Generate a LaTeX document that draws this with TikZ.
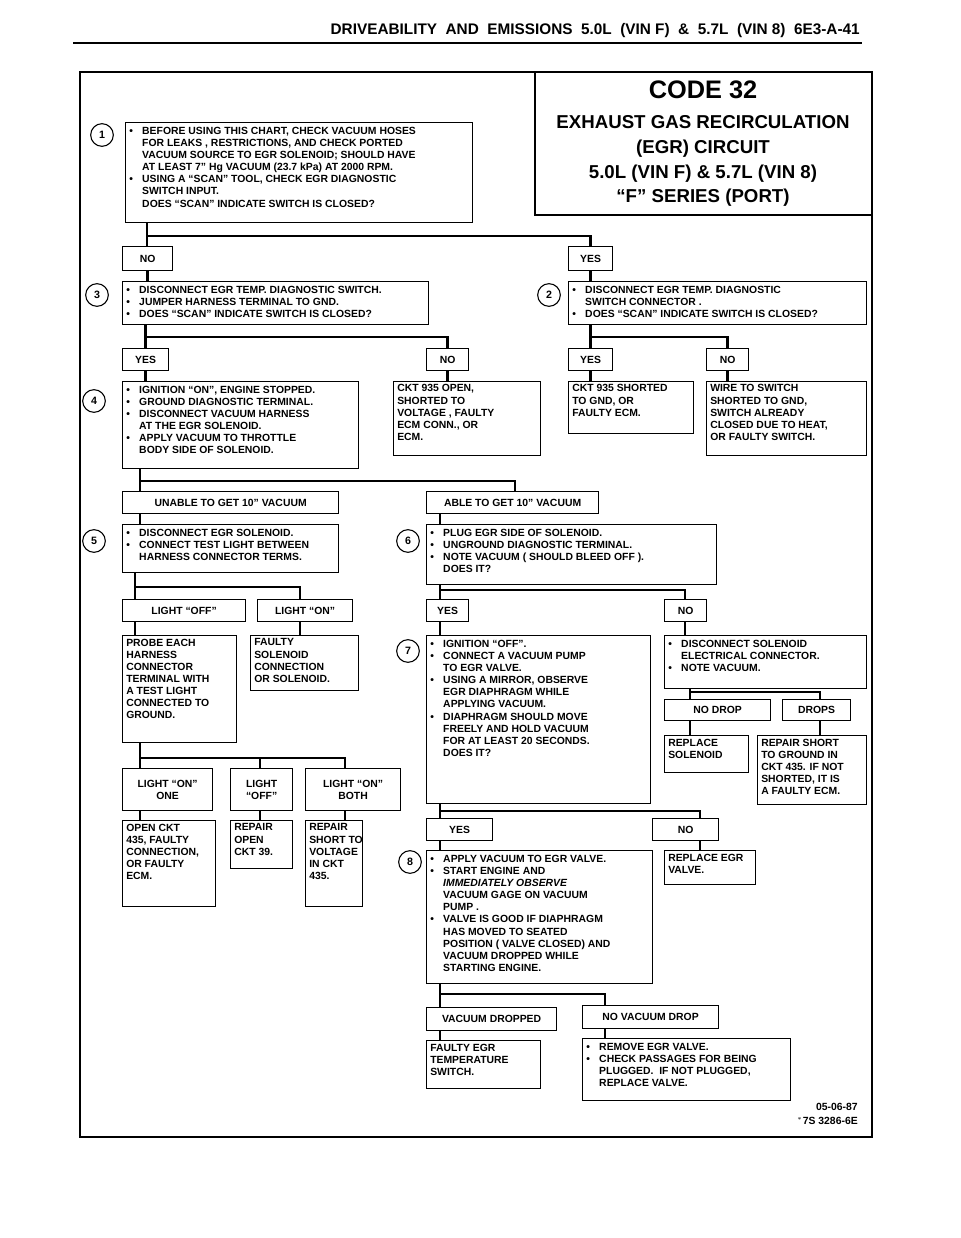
\documentclass[tikz,border=0pt]{standalone}
\usepackage{fontspec}
\setmainfont{Liberation Sans}
\usetikzlibrary{calc}
\newcommand\B{\textbullet}
\tikzset{
  box/.style={draw,line width=0.9pt,inner sep=0pt},
  txt/.style={inner sep=0pt,align=left,font=\fontsize{7.8}{9.1}\selectfont\bfseries},
  lbl/.style={inner sep=0pt,font=\fontsize{7.8}{9.1}\selectfont\bfseries,align=center},
  bus/.style={line width=2.2pt},
  num/.style={draw,circle,line width=0.8pt,minimum size=17pt,inner sep=0pt,font=\fontsize{8}{9}\selectfont\bfseries}
}
\newcommand\bx[6]{\node[box,anchor=north west,minimum width={(#4-#2)*0.75pt},minimum height={(#5-#3)*0.75pt}] (#1) at (#2,#3) {};
  \node[txt,anchor=north west] (#1t) at ([xshift=3pt,yshift=-2.6pt]#1.north west) {#6};}
\newcommand\lb[6]{\node[box,anchor=north west,minimum width={(#4-#2)*0.75pt},minimum height={(#5-#3)*0.75pt}] (#1) at (#2,#3) {};
  \node[lbl] (#1t) at (#1.center) {#6};}
\begin{document}
\begin{tikzpicture}[x=0.75pt,y=-0.75pt]
\useasboundingbox (0,0) rectangle (960,1238);
\node[anchor=south east,inner sep=0pt,font=\fontsize{11.5}{12}\selectfont\bfseries] (hdr) at (860,38) {DRIVEABILITY\ \ AND\ \ EMISSIONS\ \ 5.0L\ \ (VIN F)\ \ \&\ \ 5.7L\ \ (VIN 8)\ \ 6E3-A-41};
\draw[line width=1.3pt] (73,43) -- (862,43);
\draw[line width=1.4pt] (80,72) rectangle (872,1137);
\draw[line width=0.9pt] (535,72) -- (535,215) -- (872,215);
\node[align=center,inner sep=0pt,font=\bfseries\fontsize{14}{18.5}\selectfont] (title) at (703,144) {%
  {\fontsize{19}{22}\selectfont CODE 32}\\[4pt]
  EXHAUST GAS RECIRCULATION\\
  (EGR) CIRCUIT\\
  5.0L (VIN F) \& 5.7L (VIN 8)\\
  ``F'' SERIES (PORT)};
\bx{b1}{125}{122}{472}{222}{\begin{tabular}{@{}l@{\hspace{7pt}}l@{}}\B & BEFORE USING THIS CHART, CHECK VACUUM HOSES\\ & FOR LEAKS , RESTRICTIONS, AND CHECK PORTED\\ & VACUUM SOURCE TO EGR SOLENOID; SHOULD HAVE\\ & AT LEAST 7'' Hg VACUUM (23.7 kPa) AT 2000 RPM.\\ \B & USING A ``SCAN'' TOOL, CHECK EGR DIAGNOSTIC\\ & SWITCH INPUT.\\ & DOES ``SCAN'' INDICATE SWITCH IS CLOSED?\end{tabular}}
\node[num] (n1) at (102,135) {1};
\lb{no1}{122}{246}{172}{270}{NO}
\lb{yes1}{568}{246}{612}{270}{YES}
\bx{b3}{122}{281}{428}{324}{\begin{tabular}{@{}l@{\hspace{7pt}}l@{}}\B & DISCONNECT EGR TEMP. DIAGNOSTIC SWITCH.\\ \B & JUMPER HARNESS TERMINAL TO GND.\\ \B & DOES ``SCAN'' INDICATE SWITCH IS CLOSED?\end{tabular}}
\node[num] (n3) at (97,295) {3};
\bx{b2}{568}{281}{866}{324}{\begin{tabular}{@{}l@{\hspace{7pt}}l@{}}\B & DISCONNECT EGR TEMP. DIAGNOSTIC\\ & SWITCH CONNECTOR .\\ \B & DOES ``SCAN'' INDICATE SWITCH IS CLOSED?\end{tabular}}
\node[num] (n2) at (549,295) {2};
\lb{yes3}{122}{348}{168}{370}{YES}
\lb{no3}{426}{348}{468}{370}{NO}
\lb{yes2}{568}{348}{612}{370}{YES}
\lb{no2}{706}{348}{748}{370}{NO}
\bx{b4}{122}{381}{358}{468}{\begin{tabular}{@{}l@{\hspace{7pt}}l@{}}\B & IGNITION ``ON'', ENGINE STOPPED.\\ \B & GROUND DIAGNOSTIC TERMINAL.\\ \B & DISCONNECT VACUUM HARNESS\\ & AT THE EGR SOLENOID.\\ \B & APPLY VACUUM TO THROTTLE\\ & BODY SIDE OF SOLENOID.\end{tabular}}
\node[num] (n4) at (94,401) {4};
\bx{c935o}{393}{381}{540}{455}{CKT 935 OPEN,\\SHORTED TO\\VOLTAGE , FAULTY\\ECM CONN., OR\\ECM.}
\bx{c935s}{568}{381}{693}{433}{CKT 935 SHORTED\\TO GND, OR\\FAULTY ECM.}
\bx{wire}{706}{381}{866}{455}{WIRE TO SWITCH\\SHORTED TO GND,\\SWITCH ALREADY\\CLOSED DUE TO HEAT,\\OR FAULTY SWITCH.}
\lb{unable}{122}{491}{338}{513}{UNABLE TO GET 10'' VACUUM}
\lb{able}{426}{491}{598}{513}{ABLE TO GET 10'' VACUUM}
\bx{b5}{122}{524}{338}{572}{\begin{tabular}{@{}l@{\hspace{7pt}}l@{}}\B & DISCONNECT EGR SOLENOID.\\ \B & CONNECT TEST LIGHT BETWEEN\\ & HARNESS CONNECTOR TERMS.\end{tabular}}
\node[num] (n5) at (94,541) {5};
\bx{b6}{426}{524}{716}{584}{\begin{tabular}{@{}l@{\hspace{7pt}}l@{}}\B & PLUG EGR SIDE OF SOLENOID.\\ \B & UNGROUND DIAGNOSTIC TERMINAL.\\ \B & NOTE VACUUM ( SHOULD BLEED OFF ).\\ & DOES IT?\end{tabular}}
\node[num] (n6) at (408,541) {6};
\lb{loff}{122}{599}{245}{621}{LIGHT ``OFF''}
\lb{lon}{257}{599}{352}{621}{LIGHT ``ON''}
\lb{yes6}{426}{599}{468}{621}{YES}
\lb{no6}{664}{599}{706}{621}{NO}
\bx{probe}{122}{635}{236}{742}{PROBE EACH\\HARNESS\\CONNECTOR\\TERMINAL WITH\\A TEST LIGHT\\CONNECTED TO\\GROUND.}
\bx{fsol}{250}{635}{358}{690}{FAULTY\\SOLENOID\\CONNECTION\\OR SOLENOID.}
\bx{b7}{426}{635}{650}{803}{\begin{tabular}{@{}l@{\hspace{7pt}}l@{}}\B & IGNITION ``OFF''.\\ \B & CONNECT A VACUUM PUMP\\ & TO EGR VALVE.\\ \B & USING A MIRROR, OBSERVE\\ & EGR DIAPHRAGM WHILE\\ & APPLYING VACUUM.\\ \B & DIAPHRAGM SHOULD MOVE\\ & FREELY AND HOLD VACUUM\\ & FOR AT LEAST 20 SECONDS.\\ & DOES IT?\end{tabular}}
\node[num] (n7) at (408,651) {7};
\bx{disc}{664}{635}{866}{688}{\begin{tabular}{@{}l@{\hspace{7pt}}l@{}}\B & DISCONNECT SOLENOID\\ & ELECTRICAL CONNECTOR.\\ \B & NOTE VACUUM.\end{tabular}}
\lb{nodrop}{664}{699}{770}{720}{NO DROP}
\lb{drops}{782}{699}{850}{720}{DROPS}
\bx{rsol}{664}{735}{748}{772}{REPLACE\\SOLENOID}
\bx{rshort}{757}{735}{866}{804}{REPAIR SHORT\\TO GROUND IN\\CKT 435. IF NOT\\SHORTED, IT IS\\A FAULTY ECM.}
\lb{l1}{122}{768}{212}{810}{LIGHT ``ON''\\ONE}
\lb{l2}{230}{768}{292}{810}{LIGHT\\``OFF''}
\lb{l3}{305}{768}{400}{810}{LIGHT ``ON''\\BOTH}
\bx{openckt}{122}{820}{215}{906}{OPEN CKT\\435, FAULTY\\CONNECTION,\\OR FAULTY\\ECM.}
\bx{ropen}{230}{820}{292}{868}{REPAIR\\OPEN\\CKT 39.}
\bx{rs435}{305}{820}{362}{906}{REPAIR\\SHORT TO\\VOLTAGE\\IN CKT\\435.}
\lb{yes7}{426}{818}{492}{840}{YES}
\lb{no7}{652}{818}{718}{840}{NO}
\bx{b8}{426}{850}{652}{983}{\begin{tabular}{@{}l@{\hspace{7pt}}l@{}}\B & APPLY VACUUM TO EGR VALVE.\\ \B & START ENGINE AND\\ & \itshape IMMEDIATELY OBSERVE\\ & VACUUM GAGE ON VACUUM\\ & PUMP .\\ \B & VALVE IS GOOD IF DIAPHRAGM\\ & HAS MOVED TO SEATED\\ & POSITION ( VALVE CLOSED) AND\\ & VACUUM DROPPED WHILE\\ & STARTING ENGINE.\end{tabular}}
\node[num] (n8) at (410,862) {8};
\bx{regr}{664}{850}{755}{884}{REPLACE EGR\\VALVE.}
\lb{vd}{426}{1007}{556}{1030}{VACUUM DROPPED}
\lb{nvd}{582}{1005}{718}{1028}{NO VACUUM DROP}
\bx{fegr}{426}{1040}{540}{1088}{FAULTY EGR\\TEMPERATURE\\SWITCH.}
\bx{remove}{582}{1038}{790}{1100}{\begin{tabular}{@{}l@{\hspace{7pt}}l@{}}\B & REMOVE EGR VALVE.\\ \B & CHECK PASSAGES FOR BEING\\ & PLUGGED.\ \ IF NOT PLUGGED,\\ & REPLACE VALVE.\end{tabular}}
\node[anchor=east,inner sep=0pt,font=\fontsize{7.8}{9}\selectfont\bfseries] (d1) at (858,1107) {05-06-87};
\node[anchor=east,inner sep=0pt,font=\fontsize{7.8}{9}\selectfont\bfseries] (d2) at (858,1121) {$^*$7S 3286-6E};
\coordinate (x140) at (140,0); \coordinate (x135) at (135,0);
\coordinate (x147) at (147,0);
\coordinate (x515) at (515,0); \coordinate (x440) at (440,0);
\coordinate (x300) at (300,0); \coordinate (x685) at (685,0);
\coordinate (x690) at (690,0); \coordinate (x820) at (820,0);
\coordinate (x260) at (260,0); \coordinate (x345) at (345,0);
\coordinate (x700) at (700,0); \coordinate (x605) at (605,0);
\coordinate (y1) at (0,236); \coordinate (y3) at (0,337);
\coordinate (y4) at (0,481); \coordinate (y5) at (0,587);
\coordinate (y6) at (0,590); \coordinate (yd) at (0,692);
\coordinate (yp) at (0,758); \coordinate (y7) at (0,811);
\coordinate (y8) at (0,994);
\draw[bus] (b1.south -| x147) -- (x147 |- y1) -| (yes1.north);
\draw[bus] (x147 |- y1) -- (x147 |- no1.north);
\draw[bus] (no1.south) -- (b3.north -| no1.south);
\draw[bus] (yes1.south) -- (b2.north -| yes1.south);
\draw[bus] (b3.south -| yes3.north) -- (yes3.north |- y3) -| (no3.north);
\draw[bus] (yes3.north |- y3) -- (yes3.north);
\draw[bus] (yes3.south) -- (b4.north -| yes3.south);
\draw[bus] (no3.south) -- (c935o.north -| no3.south);
\draw[bus] (b2.south -| yes2.north) -- (yes2.north |- y3) -| (no2.north);
\draw[bus] (yes2.north |- y3) -- (yes2.north);
\draw[bus] (yes2.south) -- (c935s.north -| yes2.south);
\draw[bus] (no2.south) -- (wire.north -| no2.south);
\draw[bus] (b4.south -| x140) -- (x140 |- y4) -- (x515 |- y4) -- (x515 |- able.north);
\draw[bus] (x140 |- y4) -- (x140 |- unable.north);
\draw[bus] (unable.south -| x140) -- (b5.north -| x140);
\draw[bus] (able.south -| x440) -- (b6.north -| x440);
\draw[bus] (b5.south -| x135) -- (x135 |- y5) -- (x300 |- y5) -- (x300 |- lon.north);
\draw[bus] (x135 |- y5) -- (x135 |- loff.north);
\draw[bus] (loff.south -| x135) -- (probe.north -| x135);
\draw[bus] (lon.south -| x300) -- (fsol.north -| x300);
\draw[bus] (b6.south -| x440) -- (x440 |- y6) -- (x685 |- y6) -- (x685 |- no6.north);
\draw[bus] (x440 |- y6) -- (x440 |- yes6.north);
\draw[bus] (yes6.south -| x440) -- (b7.north -| x440);
\draw[bus] (no6.south -| x685) -- (disc.north -| x685);
\draw[bus] (disc.south -| x690) -- (x690 |- yd) -- (x820 |- yd) -- (x820 |- drops.north);
\draw[bus] (x690 |- yd) -- (x690 |- nodrop.north);
\draw[bus] (nodrop.south -| x690) -- (rsol.north -| x690);
\draw[bus] (drops.south -| x820) -- (rshort.north -| x820);
\draw[bus] (probe.south -| x140) -- (x140 |- yp) -- (x345 |- yp) -- (x345 |- l3.north);
\draw[bus] (x140 |- yp) -- (x140 |- l1.north);
\draw[bus] (x260 |- yp) -- (x260 |- l2.north);
\draw[bus] (l1.south -| x140) -- (openckt.north -| x140);
\draw[bus] (l2.south -| x260) -- (ropen.north -| x260);
\draw[bus] (l3.south -| x345) -- (rs435.north -| x345);
\draw[bus] (b7.south -| x440) -- (x440 |- y7) -- (x700 |- y7) -- (x700 |- no7.north);
\draw[bus] (x440 |- y7) -- (x440 |- yes7.north);
\draw[bus] (yes7.south -| x440) -- (b8.north -| x440);
\draw[bus] (no7.south -| x700) -- (regr.north -| x700);
\draw[bus] (b8.south -| x440) -- (x440 |- y8) -- (x605 |- y8) -- (x605 |- nvd.north);
\draw[bus] (x440 |- y8) -- (x440 |- vd.north);
\draw[bus] (vd.south -| x440) -- (fegr.north -| x440);
\draw[bus] (nvd.south -| x605) -- (remove.north -| x605);
\end{tikzpicture}
\end{document}
